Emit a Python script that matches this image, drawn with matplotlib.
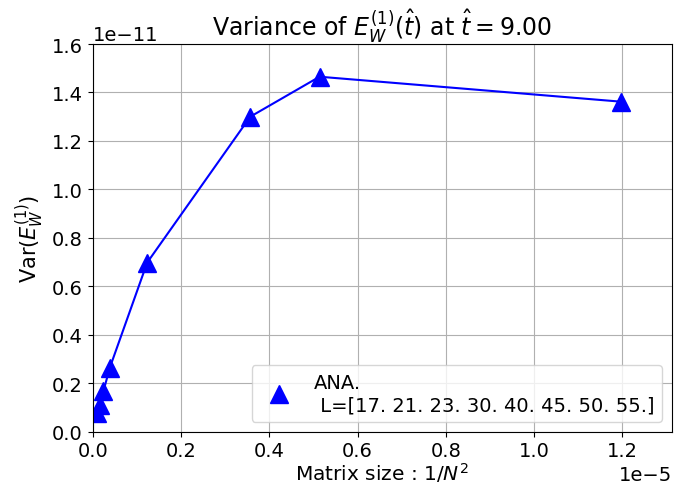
import matplotlib
matplotlib.use("Agg")
import matplotlib.pyplot as plt
import numpy as np

L = [17., 21., 23., 30., 40., 45., 50., 55.]
x_inv_N2 = [1.197e-5, 5.14e-6, 3.57e-6, 1.235e-6, 3.9e-7, 2.44e-7, 1.6e-7, 1.09e-7]
var_E = [1.362e-11, 1.465e-11, 1.300e-11, 0.698e-11, 0.265e-11, 0.168e-11, 0.112e-11, 0.078e-11]

plt.rcParams['font.size'] = 14
fig = plt.figure(figsize=(6.75, 4.85), dpi=100)
ax = fig.add_axes([0.1373, 0.1078, 0.858, 0.7994])
label = "ANA.\n L=" + str(np.array(L))
ax.plot(x_inv_N2, var_E, '-', color='blue', linewidth=1.5)
ax.plot(x_inv_N2, var_E, '^', color='blue', markersize=13, linestyle='none', label=label)
ax.set_xlim(0, 1.312e-5)
ax.set_ylim(0, 1.6e-11)
ax.grid(True, color='#b0b0b0', linewidth=0.8)
ax.tick_params(labelsize=14)
ax.xaxis.get_offset_text().set_fontsize(14)
ax.yaxis.get_offset_text().set_fontsize(14)
ax.set_title(r"Variance of $E_W^{(1)}(\hat{t})$ at $\hat{t}=9.00$", fontsize=17)
ax.set_xlabel(r"Matrix size : $1/N^2$", fontsize=14.5, labelpad=0)
ax.set_ylabel(r"Var($E_W^{(1)}$)", fontsize=15)
ax.legend(loc='lower right', fontsize=14)
fig.savefig("out.png", dpi=100)
